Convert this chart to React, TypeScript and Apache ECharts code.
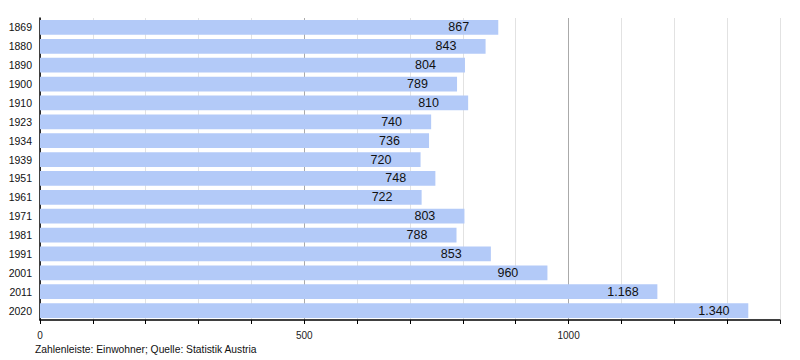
import React, { useEffect, useRef } from "react";
import * as echarts from "echarts";

const years = ["1869", "1880", "1890", "1900", "1910", "1923", "1934", "1939", "1951", "1961", "1971", "1981", "1991", "2001", "2011", "2020"];
const population = [867, 843, 804, 789, 810, 740, 736, 720, 748, 722, 803, 788, 853, 960, 1168, 1340];
const labeledTicks = [0, 500, 1000];
const footer = "Zahlenleiste: Einwohner; Quelle: Statistik Austria";

const fmt = (v: number) => v.toLocaleString("de-DE");

export default function App() {
  const ref = useRef<HTMLDivElement>(null);
  useEffect(() => {
    document.body.style.margin = "0";
    const chart = echarts.init(ref.current!, null, { renderer: "svg" });
    chart.setOption({
      animation: false,
      textStyle: { fontFamily: "Liberation Sans, Arial, sans-serif" },
      grid: { left: 40, right: 20, top: 18, bottom: 40, containLabel: false },
      xAxis: {
        type: "value",
        min: 0,
        max: 1400,
        interval: 100,
        axisLine: { show: true, lineStyle: { color: "#000", width: 1.5 } },
        axisTick: { show: true, length: 4, lineStyle: { color: "#000" } },
        axisLabel: {
          color: "#222",
          fontSize: 10,
          margin: 10,
          formatter: (v: number) => (labeledTicks.includes(v) ? String(v) : ""),
        },
        splitLine: {
          show: true,
          lineStyle: { color: ["#aaaaaa", "#e2e2e2", "#e2e2e2", "#e2e2e2", "#e2e2e2"], width: 1 },
        },
      },
      yAxis: {
        type: "category",
        data: years,
        inverse: true,
        axisLine: { show: true, lineStyle: { color: "#000", width: 1.5 } },
        axisTick: { show: false },
        axisLabel: { color: "#111", fontSize: 10.5, margin: 8 },
      },
      series: [
        {
          type: "bar",
          data: population,
          barCategoryGap: "22%",
          itemStyle: { color: "#b3caf8" },
          label: {
            show: true,
            position: "insideRight",
            distance: 50,
            align: "left",
            color: "#111",
            fontSize: 12.5,
            formatter: (p: any) => fmt(p.value),
          },
        },
      ],
      graphic: [
        {
          type: "text",
          left: 35,
          top: 344,
          style: { text: footer, fontSize: 10.3, fill: "#111", fontFamily: "Liberation Sans, Arial, sans-serif" },
        },
      ],
    });
    return () => chart.dispose();
  }, []);
  return <div ref={ref} style={{ width: 800, height: 360 }} />;
}
